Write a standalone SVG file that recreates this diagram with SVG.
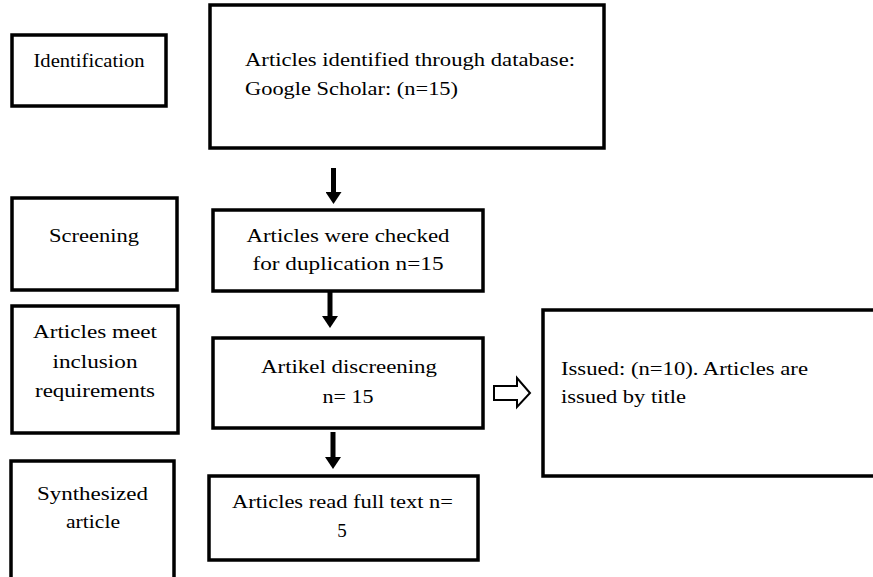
<svg xmlns="http://www.w3.org/2000/svg" width="873" height="577" viewBox="0 0 873 577">
<defs>
<style>
.box{fill:#fff;stroke:#000;stroke-width:3.5}
.t{font-family:'Liberation Serif','DejaVu Serif','Times New Roman',serif;font-size:19px;fill:#000}
.m{text-anchor:middle}
.sh{stroke:#000;stroke-width:5;fill:none}
.hol{fill:#fff;stroke:#000;stroke-width:2}
</style>
<marker id="ah" markerUnits="userSpaceOnUse" markerWidth="12" markerHeight="16" viewBox="0 0 12 16" refX="0" refY="8" orient="auto">
<path d="M0,0 L12,8 L0,16 z" fill="#000"/>
</marker>
</defs>
<rect width="873" height="577" fill="#fff"/>

<g id="identification">
<rect class="box" x="12" y="35" width="154" height="71"/>
<text class="t m" x="89" y="67" textLength="111" lengthAdjust="spacingAndGlyphs">Identification</text>
</g>

<g id="articles-identified">
<rect class="box" x="210" y="5" width="394" height="143"/>
<text class="t" x="245" y="66" textLength="330" lengthAdjust="spacingAndGlyphs">Articles identified through database:</text>
<text class="t" x="245" y="95" textLength="213" lengthAdjust="spacingAndGlyphs">Google Scholar: (n=15)</text>
</g>

<g id="screening">
<rect class="box" x="12" y="198" width="165" height="92"/>
<text class="t m" x="94" y="242" textLength="90" lengthAdjust="spacingAndGlyphs">Screening</text>
</g>

<g id="checked-duplication">
<rect class="box" x="213" y="210" width="270" height="81"/>
<text class="t m" x="348" y="242" textLength="203" lengthAdjust="spacingAndGlyphs">Articles were checked</text>
<text class="t m" x="348" y="270" textLength="191" lengthAdjust="spacingAndGlyphs">for duplication n=15</text>
</g>

<g id="inclusion">
<rect class="box" x="12" y="306" width="166" height="127"/>
<text class="t m" x="95" y="338" textLength="124" lengthAdjust="spacingAndGlyphs">Articles meet</text>
<text class="t m" x="95" y="368" textLength="85" lengthAdjust="spacingAndGlyphs">inclusion</text>
<text class="t m" x="95" y="397" textLength="120" lengthAdjust="spacingAndGlyphs">requirements</text>
</g>

<g id="discreening">
<rect class="box" x="213" y="338" width="270" height="90"/>
<text class="t m" x="349" y="373" textLength="176" lengthAdjust="spacingAndGlyphs">Artikel discreening</text>
<text class="t m" x="348" y="403" textLength="51" lengthAdjust="spacingAndGlyphs">n= 15</text>
</g>

<g id="issued">
<rect class="box" x="543" y="310" width="340" height="166"/>
<text class="t" x="561" y="375" textLength="247" lengthAdjust="spacingAndGlyphs">Issued: (n=10). Articles are</text>
<text class="t" x="561" y="403" textLength="125" lengthAdjust="spacingAndGlyphs">issued by title</text>
</g>

<g id="synthesized">
<rect class="box" x="11" y="461" width="163" height="130"/>
<text class="t m" x="92.5" y="500" textLength="111" lengthAdjust="spacingAndGlyphs">Synthesized</text>
<text class="t m" x="93" y="528" textLength="54" lengthAdjust="spacingAndGlyphs">article</text>
</g>

<g id="full-text">
<rect class="box" x="209" y="476" width="269" height="84"/>
<text class="t m" x="342.5" y="508" textLength="221" lengthAdjust="spacingAndGlyphs">Articles read full text n=</text>
<text class="t m" x="342" y="537">5</text>
</g>

<g id="connectors">
<line class="sh" x1="333.5" y1="168" x2="333.5" y2="192" marker-end="url(#ah)"/>
<line class="sh" x1="330" y1="292" x2="330" y2="316" marker-end="url(#ah)"/>
<line class="sh" x1="333" y1="432" x2="333" y2="457" marker-end="url(#ah)"/>
<polygon class="hol" points="494,386 517,386 517,378 530,393 517,407 517,400 494,400"/>
</g>
</svg>
